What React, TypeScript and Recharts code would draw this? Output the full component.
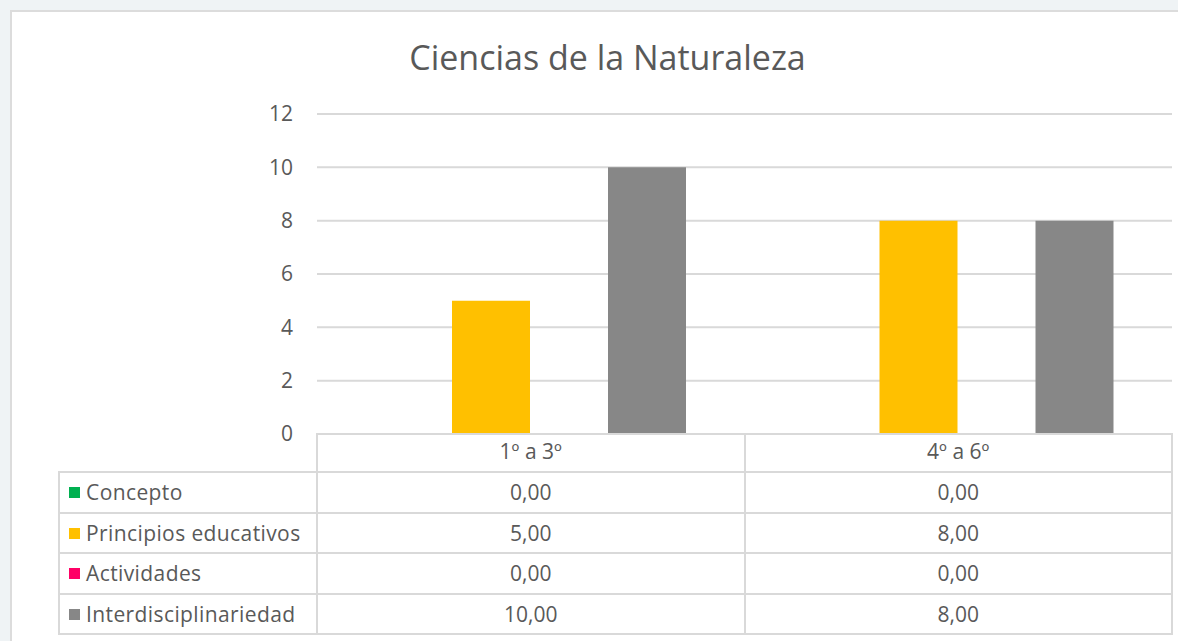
import { BarChart, Bar, XAxis, YAxis, CartesianGrid } from 'recharts';

const categories = ['1º a 3º', '4º a 6º'];
const concepto = [0, 0];
const principiosEducativos = [5, 8];
const actividades = [0, 0];
const interdisciplinariedad = [10, 8];
const yTicks = [0, 2, 4, 6, 8, 10, 12];

const SERIES = [
  { key: 'concepto', name: 'Concepto', color: '#00B050', values: concepto },
  { key: 'principios', name: 'Principios educativos', color: '#FFC000', values: principiosEducativos },
  { key: 'actividades', name: 'Actividades', color: '#FF0066', values: actividades },
  { key: 'interdisciplinariedad', name: 'Interdisciplinariedad', color: '#878787', values: interdisciplinariedad },
];

const data = categories.map((name, i) => {
  const row: Record<string, string | number> = { name };
  SERIES.forEach((s) => {
    row[s.key] = s.values[i];
  });
  return row;
});

const FONT = '"Open Sans", Lato, sans-serif';
const TEXT = '#595959';
const LINE = '#d9d9d9';

// plot / table geometry (px)
const PLOT_LEFT = 317;
const PLOT_RIGHT = 1172;
const PLOT_TOP = 114;
const PLOT_BOTTOM = 434;
const HEADER_H = 38;
const ROW_H = 40.5;
const TABLE_LEFT = 59;

const fmt = (v: number) => v.toFixed(2).replace('.', ',');

function DataTable() {
  const colW = (PLOT_RIGHT - PLOT_LEFT) / categories.length;
  const cell: React.CSSProperties = {
    border: `2px solid ${LINE}`,
    padding: 0,
    height: ROW_H,
    boxSizing: 'border-box',
    color: TEXT,
    fontSize: 21,
    textAlign: 'center',
    fontFamily: FONT,
    lineHeight: '24px',
  };
  return (
    <table
      style={{
        position: 'absolute',
        left: TABLE_LEFT - 1,
        top: PLOT_BOTTOM - 1,
        borderCollapse: 'collapse',
        tableLayout: 'fixed',
      }}
    >
      <colgroup>
        <col style={{ width: PLOT_LEFT - TABLE_LEFT }} />
        {categories.map((c) => (
          <col key={c} style={{ width: colW }} />
        ))}
      </colgroup>
      <tbody>
        <tr>
          <td style={{ ...cell, height: HEADER_H, borderTop: 'none', borderLeft: 'none' }} />
          {categories.map((c) => (
            <td key={c} style={{ ...cell, height: HEADER_H }} />
          ))}
        </tr>
        {SERIES.map((s) => (
          <tr key={s.key}>
            <td
              style={{
                ...cell,
                textAlign: 'left',
                paddingLeft: 9,
                whiteSpace: 'nowrap',
                letterSpacing: 0.4,
              }}
            >
              <span
                style={{
                  display: 'inline-block',
                  width: 11,
                  height: 11,
                  background: s.color,
                  marginRight: 6,
                  verticalAlign: 'middle',
                  position: 'relative',
                  top: -2,
                }}
              />
              {s.name}
            </td>
            {s.values.map((v, i) => (
              <td key={i} style={cell}>
                {fmt(v)}
              </td>
            ))}
          </tr>
        ))}
      </tbody>
    </table>
  );
}

export default function App() {
  return (
    <div
      style={{
        position: 'fixed',
        left: 0,
        top: 0,
        width: 1178,
        height: 641,
        background: '#eff3f5',
        overflow: 'hidden',
        fontFamily: FONT,
      }}
    >
      <div
        style={{
          position: 'absolute',
          left: 10,
          top: 10,
          width: 1180,
          height: 650,
          background: '#fff',
          borderLeft: '2px solid #dcdcdc',
          borderTop: '2px solid #dcdcdc',
        }}
      />
      <div
        style={{
          position: 'absolute',
          left: 0,
          width: 1215,
          top: 34,
          textAlign: 'center',
          fontSize: 34,
          lineHeight: 'normal',
          color: TEXT,
          fontFamily: FONT,
        }}
      >
        Ciencias de la Naturaleza
      </div>
      <div style={{ position: 'absolute', left: 0, top: 0 }}>
        <BarChart
          width={1178}
          height={641}
          data={data}
          margin={{ top: PLOT_TOP, right: 1178 - PLOT_RIGHT, bottom: 641 - PLOT_BOTTOM - HEADER_H, left: 0 }}
          barCategoryGap={57}
          barGap={0}
        >
          <CartesianGrid vertical={false} stroke={LINE} strokeWidth={2} />
          <YAxis
            width={PLOT_LEFT}
            domain={[0, 12]}
            ticks={yTicks}
            axisLine={false}
            tickLine={false}
            tickSize={0}
            tickMargin={24}
            tick={{ fill: TEXT, fontSize: 21, fontFamily: FONT }}
          />
          <XAxis
            dataKey="name"
            height={HEADER_H}
            axisLine={{ stroke: LINE, strokeWidth: 2 }}
            tickLine={false}
            tickSize={0}
            tickMargin={10}
            tick={{ fill: TEXT, fontSize: 21, fontFamily: FONT }}
          />
          {SERIES.map((s) => (
            <Bar key={s.key} dataKey={s.key} name={s.name} fill={s.color} isAnimationActive={false} />
          ))}
        </BarChart>
      </div>
      <DataTable />
    </div>
  );
}
